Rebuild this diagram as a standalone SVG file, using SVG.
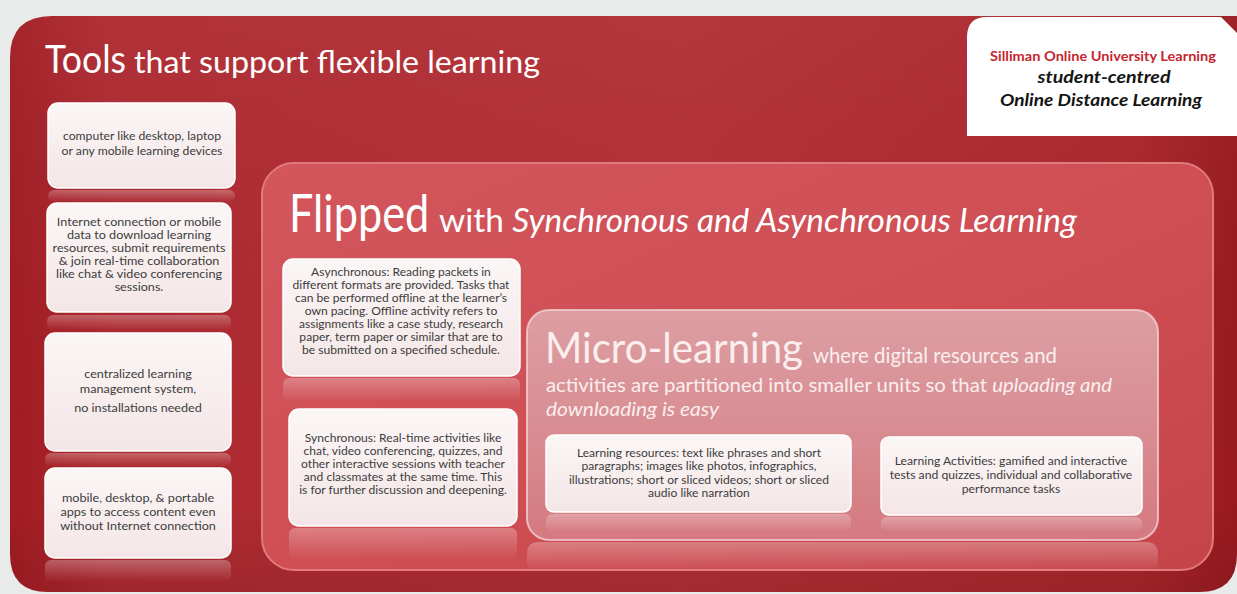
<svg xmlns="http://www.w3.org/2000/svg" width="1237" height="594" viewBox="0 0 1237 594">
<defs>
<linearGradient id="outerG" x1="0" y1="0" x2="1" y2="0">
<stop offset="0" stop-color="#a11c23"/>
<stop offset="0.08" stop-color="#ad2930"/>
<stop offset="0.55" stop-color="#b12f35"/>
<stop offset="0.92" stop-color="#a8252b"/>
<stop offset="1" stop-color="#981a20"/>
</linearGradient>
<linearGradient id="outerV" x1="0" y1="0" x2="0" y2="1">
<stop offset="0" stop-color="#ffffff" stop-opacity="0.04"/>
<stop offset="0.85" stop-color="#000000" stop-opacity="0"/>
<stop offset="1" stop-color="#000000" stop-opacity="0.08"/>
</linearGradient>
<linearGradient id="flipG" x1="0" y1="0" x2="1" y2="1">
<stop offset="0" stop-color="#d2565c"/>
<stop offset="0.5" stop-color="#cf4f55"/>
<stop offset="1" stop-color="#c5444a"/>
</linearGradient>
<linearGradient id="microG" x1="0" y1="0" x2="0" y2="1">
<stop offset="0" stop-color="#dc9ea2"/>
<stop offset="0.5" stop-color="#d88e93"/>
<stop offset="1" stop-color="#d4797f"/>
</linearGradient>
<linearGradient id="boxG" x1="0" y1="0" x2="0" y2="1">
<stop offset="0" stop-color="#fbf6f6"/>
<stop offset="1" stop-color="#f4e6e7"/>
</linearGradient>
<linearGradient id="reflG" x1="0" y1="0" x2="0" y2="1">
<stop offset="0" stop-color="#ffffff" stop-opacity="0.28"/>
<stop offset="1" stop-color="#ffffff" stop-opacity="0"/>
</linearGradient>
<style>
.box{fill:url(#boxG);stroke:#ffffff;stroke-width:1.5}
.refl{fill:url(#reflG)}
.bt{font-family:Lato,"Liberation Sans",sans-serif;font-size:10.7px;fill:#3c3c3c;text-anchor:middle}
.ttl{font-family:Lato,"Liberation Sans",sans-serif;fill:#ffffff}
.mic{font-family:Lato,"Liberation Sans",sans-serif;fill:#fbeeee}
.it{font-style:italic}
</style>
</defs>
<rect x="0" y="0" width="1237" height="594" fill="#e9eaea"/>

<g id="outer-panel">
<path d="M10,58 Q10,16 52,16 L1237,16 L1237,554 Q1237,592 1199,592 L48,592 Q10,592 10,554 Z" fill="url(#outerG)"/>
<path d="M10,58 Q10,16 52,16 L1237,16 L1237,554 Q1237,592 1199,592 L48,592 Q10,592 10,554 Z" fill="url(#outerV)"/>
<text class="ttl" x="45" y="73" font-size="38" textLength="81" lengthAdjust="spacingAndGlyphs">Tools</text>
<text class="ttl" x="134" y="73" font-size="31" textLength="406" lengthAdjust="spacingAndGlyphs">that support flexible learning</text>
</g>

<g id="badge">
<path d="M967,136 L967,37 Q967,17 987,17 L1221,17 L1237,33 L1237,136 Z" fill="#ffffff"/>
<text x="1103" y="61" font-family="Lato,'Liberation Sans',sans-serif" font-size="13" font-weight="bold" fill="#c4262e" text-anchor="middle" textLength="226" lengthAdjust="spacingAndGlyphs">Silliman Online University Learning</text>
<text x="1104" y="83" font-family="Lato,'Liberation Sans',sans-serif" font-size="17" font-style="italic" font-weight="bold" fill="#151515" text-anchor="middle" textLength="133" lengthAdjust="spacingAndGlyphs">student-centred</text>
<text x="1101" y="106" font-family="Lato,'Liberation Sans',sans-serif" font-size="17" font-style="italic" font-weight="bold" fill="#151515" text-anchor="middle" textLength="202" lengthAdjust="spacingAndGlyphs">Online Distance Learning</text>
</g>

<g id="tool-computer">
<rect class="box" x="48" y="103" width="187" height="85" rx="10"/>
<rect class="refl" x="48" y="190" width="187" height="12" rx="6"/>
<text class="bt" transform="translate(142,0) scale(1.14,1) translate(-142,0)"><tspan x="142" y="140">computer like desktop, laptop</tspan><tspan x="142" y="155">or any mobile learning devices</tspan></text>
</g>

<g id="tool-internet">
<rect class="box" x="47" y="203" width="184" height="109" rx="10"/>
<rect class="refl" x="47" y="315" width="184" height="15" rx="6"/>
<text class="bt" transform="translate(139,0) scale(1.18,1) translate(-139,0)"><tspan x="139" y="226">Internet connection or mobile</tspan><tspan x="139" y="239">data to download learning</tspan><tspan x="139" y="252">resources, submit requirements</tspan><tspan x="139" y="265">&amp; join real-time collaboration</tspan><tspan x="139" y="278">like chat &amp; video conferencing</tspan><tspan x="139" y="291">sessions.</tspan></text>
</g>

<g id="tool-lms">
<rect class="box" x="45" y="333" width="186" height="118" rx="10"/>
<rect class="refl" x="45" y="453" width="186" height="14" rx="6"/>
<text class="bt" transform="translate(138,0) scale(1.18,1) translate(-138,0)"><tspan x="138" y="378">centralized learning</tspan><tspan x="138" y="393">management system,</tspan><tspan x="138" y="412">no installations needed</tspan></text>
</g>

<g id="tool-apps">
<rect class="box" x="45" y="468" width="186" height="90" rx="10"/>
<rect class="refl" x="45" y="560" width="186" height="22" rx="6"/>
<text class="bt" transform="translate(138,0) scale(1.18,1) translate(-138,0)"><tspan x="138" y="502">mobile, desktop, &amp; portable</tspan><tspan x="138" y="516">apps to access content even</tspan><tspan x="138" y="530">without Internet connection</tspan></text>
</g>

<g id="flipped-panel">
<rect x="262" y="163" width="951" height="407" rx="32" fill="url(#flipG)" stroke="#e27a7e" stroke-width="2"/>
<text class="ttl" font-size="52" transform="translate(289,232) scale(0.85,1)" x="0" y="0" textLength="165" lengthAdjust="spacingAndGlyphs">Flipped</text>
<text class="ttl" x="439" y="232" font-size="32" textLength="638" lengthAdjust="spacingAndGlyphs">with <tspan class="it">Synchronous and Asynchronous Learning</tspan></text>
</g>

<g id="asynchronous">
<rect class="box" x="283" y="259" width="237" height="117" rx="10"/>
<rect class="refl" x="283" y="378" width="237" height="24" rx="6"/>
<text class="bt" transform="translate(401,0) scale(1.13,1) translate(-401,0)"><tspan x="401" y="276">Asynchronous: Reading packets in</tspan><tspan x="401" y="289">different formats are provided. Tasks that</tspan><tspan x="401" y="302">can be performed offline at the learner’s</tspan><tspan x="401" y="315">own pacing. Offline activity refers to</tspan><tspan x="401" y="328">assignments like a case study, research</tspan><tspan x="401" y="341">paper, term paper or similar that are to</tspan><tspan x="401" y="354">be submitted on a specified schedule.</tspan></text>
</g>

<g id="synchronous">
<rect class="box" x="289" y="409" width="228" height="117" rx="10"/>
<rect class="refl" x="289" y="528" width="228" height="32" rx="6"/>
<text class="bt" transform="translate(403,0) scale(1.13,1) translate(-403,0)"><tspan x="403" y="442">Synchronous: Real-time activities like</tspan><tspan x="403" y="455">chat, video conferencing, quizzes, and</tspan><tspan x="403" y="468">other interactive sessions with teacher</tspan><tspan x="403" y="481">and classmates at the same time. This</tspan><tspan x="403" y="494">is for further discussion and deepening.</tspan></text>
</g>

<g id="micro-panel">
<rect class="refl" x="527" y="542" width="631" height="30" rx="10"/>
<rect x="527" y="310" width="631" height="230" rx="22" fill="url(#microG)" stroke="#f3d0d2" stroke-opacity="0.8" stroke-width="2"/>
<text class="mic" x="545" y="363" font-size="42" textLength="258" lengthAdjust="spacingAndGlyphs">Micro-learning</text>
<text class="mic" x="813" y="363" font-size="21" textLength="244" lengthAdjust="spacingAndGlyphs">where digital resources and</text>
<text class="mic" x="546" y="392" font-size="20" textLength="566" lengthAdjust="spacingAndGlyphs">activities are partitioned into smaller units so that <tspan class="it">uploading and</tspan></text>
<text class="mic it" x="546" y="416" font-size="20" textLength="173" lengthAdjust="spacingAndGlyphs">downloading is easy</text>
</g>

<g id="learning-resources">
<rect class="box" x="546" y="435" width="305" height="77" rx="8"/>
<rect class="refl" x="546" y="514" width="305" height="18" rx="6"/>
<text class="bt" transform="translate(699,0) scale(1.13,1) translate(-699,0)"><tspan x="699" y="457">Learning resources: text like phrases and short</tspan><tspan x="699" y="470.5">paragraphs; images like photos, infographics,</tspan><tspan x="699" y="484">illustrations; short or sliced videos; short or sliced</tspan><tspan x="699" y="497.5">audio like narration</tspan></text>
</g>

<g id="learning-activities">
<rect class="box" x="881" y="437" width="261" height="78" rx="8"/>
<rect class="refl" x="881" y="517" width="261" height="15" rx="6"/>
<text class="bt" transform="translate(1011,0) scale(1.14,1) translate(-1011,0)"><tspan x="1011" y="465">Learning Activities: gamified and interactive</tspan><tspan x="1011" y="479">tests and quizzes, individual and collaborative</tspan><tspan x="1011" y="493">performance tasks</tspan></text>
</g>

<g id="connectors"></g>
</svg>
